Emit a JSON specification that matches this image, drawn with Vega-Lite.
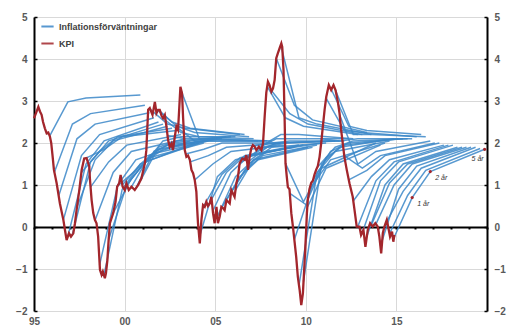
{
"$schema": "https://vega.github.io/schema/vega-lite/v6.json",
"width": 453, "height": 294,
"autosize": "none",
"padding": {"left": 34, "top": 17, "right": 20, "bottom": 18},
"background": "white",
"config": {"view": {"stroke": null}, "font": "Liberation Sans"},
"datasets": {
"kpi": [
{"t":1995.0,"v":2.59},{"t":1995.1,"v":2.7},{"t":1995.24,"v":2.86},{"t":1995.33,"v":2.75},{"t":1995.42,"v":2.67},{"t":1995.5,"v":2.5},{"t":1995.6,"v":2.35},{"t":1995.7,"v":2.23},{"t":1995.79,"v":2.25},{"t":1995.88,"v":2.15},{"t":1995.95,"v":2.0},
{"t":1996.03,"v":1.67},{"t":1996.1,"v":1.36},{"t":1996.25,"v":1.04},{"t":1996.43,"v":0.56},{"t":1996.62,"v":0.17},{"t":1996.72,"v":-0.1},{"t":1996.8,"v":-0.31},{"t":1996.93,"v":-0.15},
{"t":1997.04,"v":-0.23},{"t":1997.17,"v":-0.15},{"t":1997.26,"v":0.09},{"t":1997.35,"v":0.4},{"t":1997.5,"v":0.88},{"t":1997.63,"v":1.36},{"t":1997.77,"v":1.63},{"t":1997.9,"v":1.64},
{"t":1998.05,"v":1.44},{"t":1998.09,"v":1.12},{"t":1998.18,"v":0.64},{"t":1998.27,"v":0.33},{"t":1998.36,"v":0.17},{"t":1998.45,"v":0.09},{"t":1998.54,"v":-0.23},{"t":1998.64,"v":-1.02},{"t":1998.73,"v":-1.14},{"t":1998.8,"v":-1.06},{"t":1998.91,"v":-1.22},{"t":1998.97,"v":-1.1},
{"t":1999.05,"v":-0.79},{"t":1999.12,"v":-0.3},{"t":1999.19,"v":0.09},{"t":1999.37,"v":0.33},{"t":1999.5,"v":0.6},{"t":1999.59,"v":0.96},{"t":1999.7,"v":1.04},{"t":1999.78,"v":1.24},{"t":1999.89,"v":0.96},
{"t":2000.01,"v":0.88},{"t":2000.1,"v":1.04},{"t":2000.23,"v":0.88},{"t":2000.38,"v":0.96},{"t":2000.56,"v":0.88},{"t":2000.75,"v":1.0},{"t":2000.93,"v":1.16},
{"t":2001.12,"v":1.52},{"t":2001.2,"v":1.83},{"t":2001.3,"v":2.79},{"t":2001.39,"v":2.83},{"t":2001.54,"v":2.67},{"t":2001.67,"v":2.98},{"t":2001.76,"v":2.71},{"t":2001.85,"v":2.79},{"t":2001.94,"v":2.79},
{"t":2002.04,"v":2.65},{"t":2002.12,"v":2.59},{"t":2002.22,"v":2.67},{"t":2002.31,"v":2.39},{"t":2002.4,"v":2.07},{"t":2002.49,"v":1.91},{"t":2002.59,"v":1.99},{"t":2002.67,"v":1.83},{"t":2002.77,"v":2.15},{"t":2002.86,"v":2.39},{"t":2002.95,"v":2.31},
{"t":2003.08,"v":3.34},{"t":2003.17,"v":3.18},{"t":2003.23,"v":2.59},{"t":2003.32,"v":1.83},{"t":2003.41,"v":1.67},{"t":2003.5,"v":1.7},{"t":2003.6,"v":1.6},{"t":2003.69,"v":1.36},{"t":2003.78,"v":1.28},{"t":2003.87,"v":1.12},{"t":2003.96,"v":0.84},
{"t":2004.0,"v":0.48},{"t":2004.05,"v":0.09},{"t":2004.15,"v":-0.39},{"t":2004.24,"v":0.17},{"t":2004.33,"v":0.52},{"t":2004.42,"v":0.48},{"t":2004.51,"v":0.6},{"t":2004.6,"v":0.5},{"t":2004.7,"v":0.56},{"t":2004.79,"v":0.72},{"t":2004.88,"v":0.33},{"t":2004.97,"v":0.09},
{"t":2005.07,"v":0.48},{"t":2005.15,"v":0.09},{"t":2005.25,"v":0.25},{"t":2005.34,"v":0.48},{"t":2005.43,"v":0.45},{"t":2005.52,"v":0.4},{"t":2005.62,"v":0.64},{"t":2005.71,"v":0.6},{"t":2005.8,"v":0.56},{"t":2005.89,"v":0.88},{"t":2005.98,"v":0.8},
{"t":2006.07,"v":0.72},{"t":2006.17,"v":1.04},{"t":2006.26,"v":1.2},{"t":2006.35,"v":1.52},{"t":2006.5,"v":1.63},{"t":2006.63,"v":1.6},{"t":2006.72,"v":1.71},{"t":2006.81,"v":1.36},{"t":2006.9,"v":1.67},{"t":2006.99,"v":1.87},
{"t":2007.08,"v":1.95},{"t":2007.18,"v":1.91},{"t":2007.27,"v":1.83},{"t":2007.41,"v":1.91},{"t":2007.55,"v":1.83},{"t":2007.64,"v":2.0},{"t":2007.73,"v":2.63},{"t":2007.82,"v":3.2},{"t":2007.91,"v":3.46},
{"t":2008.0,"v":3.38},{"t":2008.1,"v":3.22},{"t":2008.19,"v":3.3},{"t":2008.28,"v":3.5},{"t":2008.37,"v":4.02},{"t":2008.46,"v":4.14},{"t":2008.55,"v":4.25},{"t":2008.65,"v":4.37},{"t":2008.7,"v":4.29},{"t":2008.77,"v":3.74},{"t":2008.83,"v":2.6},{"t":2008.88,"v":1.52},{"t":2008.95,"v":1.2},
{"t":2009.01,"v":0.95},{"t":2009.1,"v":0.9},{"t":2009.2,"v":0.33},{"t":2009.29,"v":0.01},{"t":2009.38,"v":-0.35},{"t":2009.47,"v":-0.71},{"t":2009.56,"v":-1.18},{"t":2009.66,"v":-1.5},{"t":2009.75,"v":-1.86},{"t":2009.84,"v":-1.58},{"t":2009.93,"v":-0.86},
{"t":2010.02,"v":-0.07},{"t":2010.06,"v":0.33},{"t":2010.11,"v":0.64},{"t":2010.2,"v":0.9},{"t":2010.3,"v":1.05},{"t":2010.39,"v":1.1},{"t":2010.48,"v":1.25},{"t":2010.57,"v":1.36},{"t":2010.66,"v":1.45},{"t":2010.76,"v":1.67},{"t":2010.85,"v":2.0},{"t":2010.94,"v":2.39},
{"t":2011.04,"v":2.8},{"t":2011.13,"v":3.1},{"t":2011.27,"v":3.38},{"t":2011.4,"v":3.26},{"t":2011.53,"v":3.38},{"t":2011.64,"v":3.26},{"t":2011.77,"v":2.98},{"t":2011.86,"v":2.71},{"t":2011.95,"v":2.31},
{"t":2012.04,"v":1.99},{"t":2012.13,"v":1.67},{"t":2012.26,"v":1.36},{"t":2012.41,"v":1.04},{"t":2012.59,"v":0.72},{"t":2012.69,"v":0.4},{"t":2012.81,"v":0.01},{"t":2012.96,"v":0.01},
{"t":2013.05,"v":-0.19},{"t":2013.18,"v":-0.07},{"t":2013.29,"v":-0.47},{"t":2013.42,"v":-0.07},{"t":2013.55,"v":0.09},{"t":2013.69,"v":0.01},{"t":2013.84,"v":0.09},{"t":2013.97,"v":0.01},
{"t":2014.06,"v":-0.23},{"t":2014.16,"v":-0.63},{"t":2014.25,"v":-0.15},{"t":2014.34,"v":0.01},{"t":2014.47,"v":0.17},{"t":2014.58,"v":-0.07},{"t":2014.65,"v":-0.23},{"t":2014.76,"v":-0.11},{"t":2014.83,"v":-0.35},{"t":2014.89,"v":-0.19}
],
"prospera": [
{"s":1,"t":1995.87,"v":2.17},{"s":1,"t":1996.87,"v":2.98},{"s":1,"t":1997.87,"v":3.07},{"s":1,"t":2000.87,"v":3.14},
{"s":2,"t":1996.12,"v":1.3},{"s":2,"t":1997.12,"v":2.45},{"s":2,"t":1998.12,"v":2.7},{"s":2,"t":2001.12,"v":2.9},
{"s":3,"t":1996.37,"v":0.75},{"s":3,"t":1997.37,"v":2.1},{"s":3,"t":1998.37,"v":2.45},{"s":3,"t":2001.37,"v":2.72},
{"s":4,"t":1996.62,"v":0.17},{"s":4,"t":1997.62,"v":1.7},{"s":4,"t":1998.62,"v":2.2},{"s":4,"t":2001.62,"v":2.6},
{"s":5,"t":1996.87,"v":-0.22},{"s":5,"t":1997.87,"v":1.5},{"s":5,"t":1998.87,"v":2.05},{"s":5,"t":2001.87,"v":2.5},
{"s":6,"t":1997.12,"v":-0.18},{"s":6,"t":1998.12,"v":1.55},{"s":6,"t":1999.12,"v":2.05},{"s":6,"t":2002.12,"v":2.45},
{"s":7,"t":1997.37,"v":0.47},{"s":7,"t":1998.37,"v":1.6},{"s":7,"t":1999.37,"v":2.05},{"s":7,"t":2002.37,"v":2.4},
{"s":8,"t":1997.62,"v":1.3},{"s":8,"t":1998.62,"v":1.8},{"s":8,"t":1999.62,"v":2.15},{"s":8,"t":2002.62,"v":2.35},
{"s":9,"t":1997.87,"v":1.64},{"s":9,"t":1998.87,"v":1.85},{"s":9,"t":1999.87,"v":2.15},{"s":9,"t":2002.87,"v":2.3},
{"s":10,"t":1998.12,"v":0.95},{"s":10,"t":1999.12,"v":1.55},{"s":10,"t":2000.12,"v":1.95},{"s":10,"t":2003.12,"v":2.2},
{"s":11,"t":1998.37,"v":0.16},{"s":11,"t":1999.37,"v":1.3},{"s":11,"t":2000.37,"v":1.8},{"s":11,"t":2003.37,"v":2.1},
{"s":12,"t":1998.62,"v":-0.9},{"s":12,"t":1999.62,"v":1.0},{"s":12,"t":2000.62,"v":1.6},{"s":12,"t":2003.62,"v":2.05},
{"s":13,"t":1998.87,"v":-1.12},{"s":13,"t":1999.87,"v":0.9},{"s":13,"t":2000.87,"v":1.5},{"s":13,"t":2003.87,"v":2.0},
{"s":14,"t":1999.12,"v":-0.3},{"s":14,"t":2000.12,"v":1.0},{"s":14,"t":2001.12,"v":1.55},{"s":14,"t":2004.12,"v":2.0},
{"s":15,"t":1999.37,"v":0.33},{"s":15,"t":2000.37,"v":1.15},{"s":15,"t":2001.37,"v":1.65},{"s":15,"t":2004.37,"v":2.0},
{"s":16,"t":1999.62,"v":0.98},{"s":16,"t":2000.62,"v":1.35},{"s":16,"t":2001.62,"v":1.75},{"s":16,"t":2004.62,"v":2.05},
{"s":17,"t":1999.87,"v":1.0},{"s":17,"t":2000.87,"v":1.5},{"s":17,"t":2001.87,"v":1.85},{"s":17,"t":2004.87,"v":2.1},
{"s":18,"t":2000.12,"v":1.0},{"s":18,"t":2001.12,"v":1.55},{"s":18,"t":2002.12,"v":1.85},{"s":18,"t":2005.12,"v":2.1},
{"s":19,"t":2000.37,"v":0.95},{"s":19,"t":2001.37,"v":1.7},{"s":19,"t":2002.37,"v":1.95},{"s":19,"t":2005.37,"v":2.1},
{"s":20,"t":2000.62,"v":0.92},{"s":20,"t":2001.62,"v":1.8},{"s":20,"t":2002.62,"v":2.0},{"s":20,"t":2005.62,"v":2.15},
{"s":21,"t":2000.87,"v":1.1},{"s":21,"t":2001.87,"v":1.9},{"s":21,"t":2002.87,"v":2.05},{"s":21,"t":2005.87,"v":2.15},
{"s":22,"t":2001.12,"v":1.52},{"s":22,"t":2002.12,"v":2.05},{"s":22,"t":2003.12,"v":2.15},{"s":22,"t":2006.12,"v":2.15},
{"s":23,"t":2001.37,"v":2.82},{"s":23,"t":2002.37,"v":2.45},{"s":23,"t":2003.37,"v":2.35},{"s":23,"t":2006.37,"v":2.2},
{"s":24,"t":2001.62,"v":2.85},{"s":24,"t":2002.62,"v":2.5},{"s":24,"t":2003.62,"v":2.35},{"s":24,"t":2006.62,"v":2.2},
{"s":25,"t":2001.87,"v":2.79},{"s":25,"t":2002.87,"v":2.4},{"s":25,"t":2003.87,"v":2.25},{"s":25,"t":2006.87,"v":2.15},
{"s":26,"t":2002.12,"v":2.59},{"s":26,"t":2003.12,"v":2.25},{"s":26,"t":2004.12,"v":2.15},{"s":26,"t":2007.12,"v":2.1},
{"s":27,"t":2002.37,"v":2.18},{"s":27,"t":2003.37,"v":2.1},{"s":27,"t":2004.37,"v":2.1},{"s":27,"t":2007.37,"v":2.05},
{"s":28,"t":2002.62,"v":1.93},{"s":28,"t":2003.62,"v":2.0},{"s":28,"t":2004.62,"v":2.05},{"s":28,"t":2007.62,"v":2.05},
{"s":29,"t":2002.87,"v":2.38},{"s":29,"t":2003.87,"v":2.05},{"s":29,"t":2004.87,"v":2.05},{"s":29,"t":2007.87,"v":2.05},
{"s":30,"t":2003.12,"v":3.25},{"s":30,"t":2004.12,"v":2.1},{"s":30,"t":2005.12,"v":2.1},{"s":30,"t":2008.12,"v":2.05},
{"s":31,"t":2003.37,"v":1.74},{"s":31,"t":2004.37,"v":1.85},{"s":31,"t":2005.37,"v":2.0},{"s":31,"t":2008.37,"v":2.0},
{"s":32,"t":2003.62,"v":1.55},{"s":32,"t":2004.62,"v":1.7},{"s":32,"t":2005.62,"v":1.9},{"s":32,"t":2008.62,"v":2.0},
{"s":33,"t":2003.87,"v":1.12},{"s":33,"t":2004.87,"v":1.5},{"s":33,"t":2005.87,"v":1.8},{"s":33,"t":2008.87,"v":1.95},
{"s":34,"t":2004.12,"v":-0.25},{"s":34,"t":2005.12,"v":1.2},{"s":34,"t":2006.12,"v":1.6},{"s":34,"t":2009.12,"v":1.9},
{"s":35,"t":2004.37,"v":0.5},{"s":35,"t":2005.37,"v":1.25},{"s":35,"t":2006.37,"v":1.65},{"s":35,"t":2009.37,"v":1.9},
{"s":36,"t":2004.62,"v":0.52},{"s":36,"t":2005.62,"v":1.3},{"s":36,"t":2006.62,"v":1.7},{"s":36,"t":2009.62,"v":1.95},
{"s":37,"t":2004.87,"v":0.38},{"s":37,"t":2005.87,"v":1.3},{"s":37,"t":2006.87,"v":1.7},{"s":37,"t":2009.87,"v":1.95},
{"s":38,"t":2005.12,"v":0.25},{"s":38,"t":2006.12,"v":1.2},{"s":38,"t":2007.12,"v":1.6},{"s":38,"t":2010.12,"v":1.9},
{"s":39,"t":2005.37,"v":0.47},{"s":39,"t":2006.37,"v":1.2},{"s":39,"t":2007.37,"v":1.6},{"s":39,"t":2010.37,"v":1.9},
{"s":40,"t":2005.62,"v":0.64},{"s":40,"t":2006.62,"v":1.35},{"s":40,"t":2007.62,"v":1.7},{"s":40,"t":2010.62,"v":1.95},
{"s":41,"t":2005.87,"v":0.82},{"s":41,"t":2006.87,"v":1.5},{"s":41,"t":2007.87,"v":1.8},{"s":41,"t":2010.87,"v":2.0},
{"s":42,"t":2006.12,"v":0.88},{"s":42,"t":2007.12,"v":1.6},{"s":42,"t":2008.12,"v":1.9},{"s":42,"t":2011.12,"v":2.0},
{"s":43,"t":2006.37,"v":1.53},{"s":43,"t":2007.37,"v":1.8},{"s":43,"t":2008.37,"v":2.0},{"s":43,"t":2011.37,"v":2.05},
{"s":44,"t":2006.62,"v":1.6},{"s":44,"t":2007.62,"v":1.9},{"s":44,"t":2008.62,"v":2.0},{"s":44,"t":2011.62,"v":2.05},
{"s":45,"t":2006.87,"v":1.57},{"s":45,"t":2007.87,"v":1.9},{"s":45,"t":2008.87,"v":2.0},{"s":45,"t":2011.87,"v":2.05},
{"s":46,"t":2007.12,"v":1.93},{"s":46,"t":2008.12,"v":2.0},{"s":46,"t":2009.12,"v":2.05},{"s":46,"t":2012.12,"v":2.05},
{"s":47,"t":2007.37,"v":1.88},{"s":47,"t":2008.37,"v":2.1},{"s":47,"t":2009.37,"v":2.1},{"s":47,"t":2012.37,"v":2.1},
{"s":48,"t":2007.62,"v":1.95},{"s":48,"t":2008.62,"v":2.2},{"s":48,"t":2009.62,"v":2.2},{"s":48,"t":2012.62,"v":2.1},
{"s":49,"t":2007.87,"v":3.35},{"s":49,"t":2008.87,"v":2.6},{"s":49,"t":2009.87,"v":2.4},{"s":49,"t":2012.87,"v":2.2},
{"s":50,"t":2008.12,"v":3.24},{"s":50,"t":2009.12,"v":2.7},{"s":50,"t":2010.12,"v":2.45},{"s":50,"t":2013.12,"v":2.2},
{"s":51,"t":2008.37,"v":4.02},{"s":51,"t":2009.37,"v":2.9},{"s":51,"t":2010.37,"v":2.55},{"s":51,"t":2013.37,"v":2.25},
{"s":52,"t":2008.62,"v":4.33},{"s":52,"t":2009.62,"v":2.6},{"s":52,"t":2010.62,"v":2.45},{"s":52,"t":2013.62,"v":2.2},
{"s":53,"t":2008.87,"v":1.52},{"s":53,"t":2009.87,"v":0.6},{"s":53,"t":2010.87,"v":1.4},{"s":53,"t":2013.87,"v":2.0},
{"s":54,"t":2009.12,"v":0.8},{"s":54,"t":2010.12,"v":0.5},{"s":54,"t":2011.12,"v":1.4},{"s":54,"t":2014.12,"v":1.95},
{"s":55,"t":2009.37,"v":-0.3},{"s":55,"t":2010.37,"v":1.0},{"s":55,"t":2011.37,"v":1.6},{"s":55,"t":2014.37,"v":2.0},
{"s":56,"t":2009.62,"v":-1.4},{"s":56,"t":2010.62,"v":1.3},{"s":56,"t":2011.62,"v":1.8},{"s":56,"t":2014.62,"v":2.05},
{"s":57,"t":2009.87,"v":-1.3},{"s":57,"t":2010.87,"v":1.5},{"s":57,"t":2011.87,"v":1.9},{"s":57,"t":2014.87,"v":2.1},
{"s":58,"t":2010.12,"v":0.66},{"s":58,"t":2011.12,"v":1.65},{"s":58,"t":2012.12,"v":1.95},{"s":58,"t":2015.12,"v":2.1},
{"s":59,"t":2010.37,"v":1.09},{"s":59,"t":2011.37,"v":1.8},{"s":59,"t":2012.37,"v":2.0},{"s":59,"t":2015.37,"v":2.1},
{"s":60,"t":2010.62,"v":1.41},{"s":60,"t":2011.62,"v":1.9},{"s":60,"t":2012.62,"v":2.05},{"s":60,"t":2015.62,"v":2.1},
{"s":61,"t":2010.87,"v":2.1},{"s":61,"t":2011.87,"v":2.05},{"s":61,"t":2012.87,"v":2.1},{"s":61,"t":2015.87,"v":2.1},
{"s":62,"t":2011.12,"v":3.07},{"s":62,"t":2012.12,"v":2.3},{"s":62,"t":2013.12,"v":2.25},{"s":62,"t":2016.12,"v":2.15},
{"s":63,"t":2011.37,"v":3.31},{"s":63,"t":2012.37,"v":2.4},{"s":63,"t":2013.37,"v":2.3},{"s":63,"t":2016.37,"v":2.2},
{"s":64,"t":2011.62,"v":3.28},{"s":64,"t":2012.62,"v":2.2},{"s":64,"t":2013.62,"v":2.2},{"s":64,"t":2016.62,"v":2.15},
{"s":65,"t":2011.87,"v":2.67},{"s":65,"t":2012.87,"v":1.5},{"s":65,"t":2013.87,"v":1.8},{"s":65,"t":2016.87,"v":2.05},
{"s":66,"t":2012.12,"v":1.7},{"s":66,"t":2013.12,"v":1.4},{"s":66,"t":2014.12,"v":1.7},{"s":66,"t":2017.12,"v":2.0},
{"s":67,"t":2012.37,"v":1.12},{"s":67,"t":2013.37,"v":1.35},{"s":67,"t":2014.37,"v":1.7},{"s":67,"t":2017.37,"v":2.0},
{"s":68,"t":2012.62,"v":0.62},{"s":68,"t":2013.62,"v":1.2},{"s":68,"t":2014.62,"v":1.6},{"s":68,"t":2017.62,"v":1.95},
{"s":69,"t":2012.87,"v":0.01},{"s":69,"t":2013.87,"v":1.1},{"s":69,"t":2014.87,"v":1.55},{"s":69,"t":2017.87,"v":1.95},
{"s":70,"t":2013.12,"v":-0.13},{"s":70,"t":2014.12,"v":1.1},{"s":70,"t":2015.12,"v":1.55},{"s":70,"t":2018.12,"v":1.95},
{"s":71,"t":2013.37,"v":-0.22},{"s":71,"t":2014.37,"v":1.0},{"s":71,"t":2015.37,"v":1.5},{"s":71,"t":2018.37,"v":1.9},
{"s":72,"t":2013.62,"v":0.05},{"s":72,"t":2014.62,"v":1.05},{"s":72,"t":2015.62,"v":1.5},{"s":72,"t":2018.62,"v":1.9},
{"s":73,"t":2013.87,"v":0.07},{"s":73,"t":2014.87,"v":1.0},{"s":73,"t":2015.87,"v":1.5},{"s":73,"t":2018.87,"v":1.9},
{"s":74,"t":2014.12,"v":-0.45},{"s":74,"t":2015.12,"v":0.9},{"s":74,"t":2016.12,"v":1.45},{"s":74,"t":2019.12,"v":1.9},
{"s":75,"t":2014.37,"v":0.05},{"s":75,"t":2015.37,"v":0.85},{"s":75,"t":2016.37,"v":1.4},{"s":75,"t":2019.37,"v":1.9},
{"s":76,"t":2014.62,"v":-0.16},{"s":76,"t":2015.62,"v":0.75},{"s":76,"t":2016.62,"v":1.35},{"s":76,"t":2019.62,"v":1.87},
{"s":77,"t":2014.87,"v":-0.25},{"s":77,"t":2015.87,"v":0.7},{"s":77,"t":2016.87,"v":1.32},{"s":77,"t":2019.87,"v":1.85}
],
"last": [
{"t":2015.87,"v":0.7,"lab":"1 år","side":"r"},
{"t":2016.87,"v":1.32,"lab":"2 år","side":"r"},
{"t":2019.87,"v":1.85,"lab":"5 år","side":"l"}
]
},
"layer": [
{
"data": {"name": "prospera"},
"mark": {"type": "line", "strokeWidth": 1.5, "opacity": 0.85},
"encoding": {
"x": {"field": "t", "type": "quantitative",
"scale": {"domain": [1995, 2020], "nice": false, "zero": false},
"axis": {"title": null, "values": [1995, 2000, 2005, 2010, 2015], "labelExpr": "slice(toString(datum.value), 2)",
"domain": false, "ticks": false, "grid": true, "gridColor": "#d9d9d9", "gridWidth": 1,
"labelFont": "Liberation Sans", "labelFontSize": 10, "labelFontWeight": "bold", "labelColor": "#595959", "labelPadding": 5, "labelFlush": false}},
"y": {"field": "v", "type": "quantitative",
"scale": {"domain": [-2, 5], "nice": false, "zero": false},
"axis": {"title": null, "values": [-2, -1, 0, 1, 2, 3, 4, 5], "orient": "left",
"domain": true, "domainColor": "#000000", "domainWidth": 2, "ticks": true, "tickColor": "#000000", "tickWidth": 1.5, "tickSize": -3,
"grid": true, "gridColor": "#d9d9d9", "gridWidth": 1,
"labelFont": "Liberation Sans", "labelFontSize": 10, "labelFontWeight": "bold", "labelColor": "#595959", "labelPadding": 10}},
"detail": {"field": "s", "type": "nominal"},
"color": {"datum": "Inflationsförväntningar",
"scale": {"domain": ["Inflationsförväntningar", "KPI"], "range": ["#3b87c8", "#a3262c"]},
"legend": {"title": null, "orient": "none", "legendX": 6, "legendY": 2, "symbolType": "stroke", "symbolSize": 150, "symbolStrokeWidth": 2,
"labelFont": "Liberation Sans", "labelFontSize": 9, "labelFontWeight": "bold", "labelColor": "#404040", "rowPadding": 4, "symbolOffset": 0}}
}
},
{
"mark": {"type": "rule", "color": "#000000", "strokeWidth": 2},
"encoding": {
"x": {"datum": 1995, "type": "quantitative",
"axis": {"title": null, "orient": "bottom", "offset": -84, "values": [1995,1996,1997,1998,1999,2000,2001,2002,2003,2004,2005,2006,2007,2008,2009,2010,2011,2012,2013,2014,2015,2016,2017,2018,2019,2020],
"labels": false, "grid": false, "domain": true, "domainColor": "#000000", "domainWidth": 2, "ticks": true, "tickColor": "#000000", "tickWidth": 2, "tickSize": 2}},
"x2": {"datum": 2020},
"y": {"datum": 0, "type": "quantitative", "axis": null}
}
},
{
"data": {"name": "kpi"},
"mark": {"type": "line", "strokeWidth": 2.3},
"encoding": {
"x": {"field": "t", "type": "quantitative", "axis": null},
"y": {"field": "v", "type": "quantitative",
"axis": {"title": null, "values": [-2, -1, 0, 1, 2, 3, 4, 5], "orient": "right",
"domain": true, "domainColor": "#000000", "domainWidth": 2, "ticks": true, "tickColor": "#000000", "tickWidth": 1.5, "tickSize": -3,
"grid": false,
"labelFont": "Liberation Sans", "labelFontSize": 10, "labelFontWeight": "bold", "labelColor": "#595959", "labelPadding": 10}},
"color": {"datum": "KPI"}
}
},
{
"data": {"name": "last"},
"mark": {"type": "circle", "color": "#a3262c", "size": 10, "opacity": 1},
"encoding": {
"x": {"field": "t", "type": "quantitative", "axis": null},
"y": {"field": "v", "type": "quantitative", "axis": null}
}
},
{
"data": {"name": "last"},
"transform": [{"filter": "datum.side == 'r'"}],
"mark": {"type": "text", "align": "left", "baseline": "middle", "dx": 5, "dy": 6, "fontSize": 7, "fontStyle": "italic", "font": "Liberation Sans", "color": "#333333"},
"encoding": {
"x": {"field": "t", "type": "quantitative", "axis": null},
"y": {"field": "v", "type": "quantitative", "axis": null},
"text": {"field": "lab"}
}
},
{
"data": {"name": "last"},
"transform": [{"filter": "datum.side == 'l'"}],
"mark": {"type": "text", "align": "right", "baseline": "middle", "dx": -1, "dy": 10, "fontSize": 7, "fontStyle": "italic", "font": "Liberation Sans", "color": "#333333"},
"encoding": {
"x": {"field": "t", "type": "quantitative", "axis": null},
"y": {"field": "v", "type": "quantitative", "axis": null},
"text": {"field": "lab"}
}
}
],
"resolve": {"axis": {"x": "independent", "y": "independent"}}
}
